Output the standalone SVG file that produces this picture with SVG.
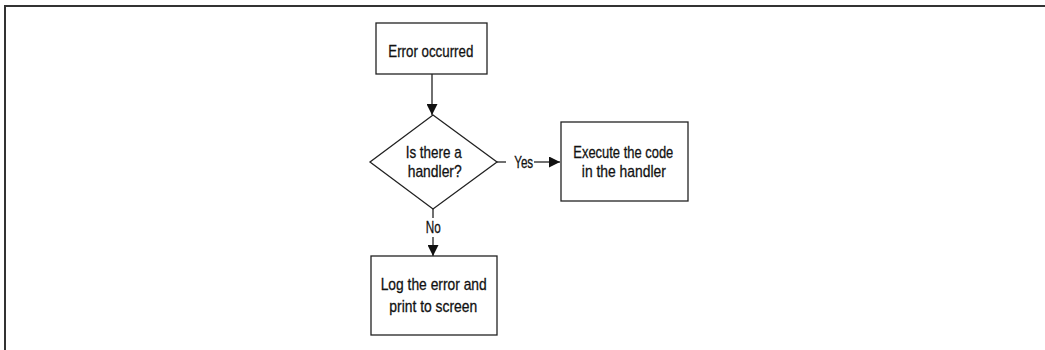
<svg xmlns="http://www.w3.org/2000/svg" width="1045" height="350" viewBox="0 0 1045 350">
  <style>
    .frame { fill: none; stroke: #333; stroke-width: 2; }
    .shape { fill: #fff; stroke: #222; stroke-width: 1.3; }
    .link { fill: none; stroke: #222; stroke-width: 1.3; }
    text { font-family: "Liberation Sans", Arial, sans-serif; font-size: 17px; fill: #111; text-anchor: middle; stroke: #111; stroke-width: 0.3; }
  </style>
  <defs>
    <marker id="arrow" markerWidth="11" markerHeight="11" refX="11" refY="5.5" orient="auto" markerUnits="userSpaceOnUse">
      <path d="M0,0 L11,5.5 L0,11 Z" fill="#111"/>
    </marker>
  </defs>
  <rect width="1045" height="350" fill="#fff"/>
  <!-- outer frame: top and left rules -->
  <path class="frame" d="M5,350 V6 H1045"/>

  <g id="connectors">
    <path class="link" d="M432,74 V115" marker-end="url(#arrow)"/>
    <path class="link" d="M497,162 H506"/>
    <path class="link" d="M534,162 H560" marker-end="url(#arrow)"/>
    <path class="link" d="M433,209 V218"/>
    <path class="link" d="M433,237 V256" marker-end="url(#arrow)"/>
    <text x="523.7" y="168" textLength="19" lengthAdjust="spacingAndGlyphs">Yes</text>
    <text x="433.3" y="233" textLength="15" lengthAdjust="spacingAndGlyphs">No</text>
  </g>

  <g id="error-occurred">
    <rect class="shape" x="376" y="23" width="111" height="51"/>
    <text x="430.8" y="57.3" textLength="85" lengthAdjust="spacingAndGlyphs">Error occurred</text>
  </g>

  <g id="has-handler">
    <polygon class="shape" points="433,115 497,162 433,209 370,162"/>
    <text x="433.7" y="158" textLength="56" lengthAdjust="spacingAndGlyphs">Is there a</text>
    <text x="434.7" y="176.7" textLength="54" lengthAdjust="spacingAndGlyphs">handler?</text>
  </g>

  <g id="execute-handler">
    <rect class="shape" x="561" y="122" width="127" height="79"/>
    <text x="623.3" y="158" textLength="100" lengthAdjust="spacingAndGlyphs">Execute the code</text>
    <text x="623.8" y="176.7" textLength="84" lengthAdjust="spacingAndGlyphs">in the handler</text>
  </g>

  <g id="log-error">
    <rect class="shape" x="371" y="256" width="126" height="79"/>
    <text x="433.7" y="290" textLength="106" lengthAdjust="spacingAndGlyphs">Log the error and</text>
    <text x="433.3" y="311.7" textLength="88" lengthAdjust="spacingAndGlyphs">print to screen</text>
  </g>
</svg>
